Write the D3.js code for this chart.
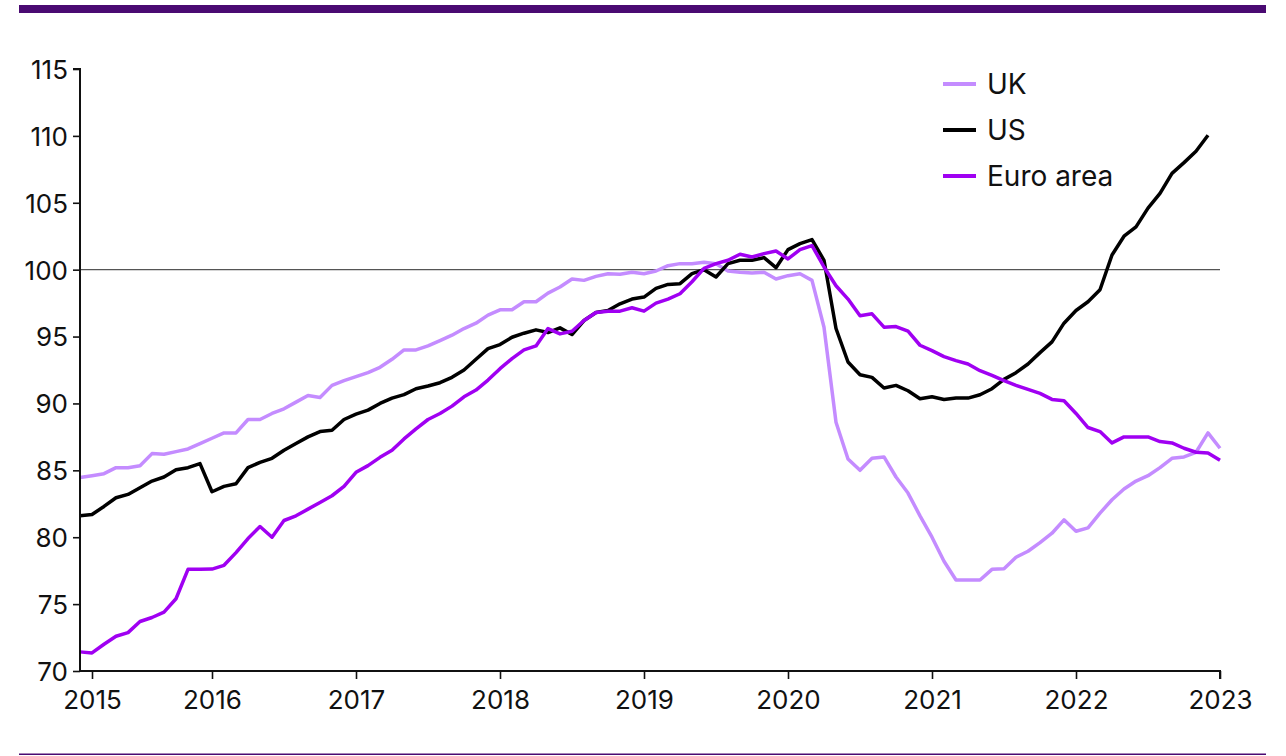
<!DOCTYPE html>
<html>
<head>
<meta charset="utf-8">
<script src="https://cdn.jsdelivr.net/npm/d3@7"></script>
<style>
  html, body { margin: 0; padding: 0; background: #fff; }
  svg { display: block; }
  text { font-family: Inter, "Noto Sans", sans-serif; fill: #111; }
</style>
</head>
<body>
<svg id="chart" width="1286" height="756"></svg>
<script>
// Monthly categories: Feb 2015 .. Jan 2023
const months = d3.timeMonths(new Date(2015, 1, 1), new Date(2023, 1, 1)).map(d3.timeFormat("%Y-%m"));

const uk = [84.47, 84.6, 84.75, 85.2, 85.2, 85.35, 86.25, 86.2, 86.4, 86.6, 87.0, 87.4,
  87.8, 87.8, 88.8, 88.8, 89.25, 89.6, 90.1, 90.6, 90.45, 91.35, 91.7, 92.0,
  92.3, 92.7, 93.3, 94.0, 94.0, 94.3, 94.7, 95.1, 95.6, 96.0, 96.6, 97.0,
  97.0, 97.6, 97.6, 98.25, 98.7, 99.3, 99.2, 99.5, 99.7, 99.65, 99.8, 99.7,
  99.9, 100.3, 100.45, 100.45, 100.55, 100.45, 99.9, 99.8, 99.75, 99.8, 99.3, 99.55,
  99.7, 99.2, 95.7, 88.6, 85.85, 85.0, 85.9, 86.0, 84.5, 83.3, 81.6, 80.0,
  78.2, 76.8, 76.8, 76.8, 77.6, 77.65, 78.5, 78.95, 79.6, 80.3, 81.3, 80.45,
  80.7, 81.8, 82.8, 83.6, 84.2, 84.6, 85.2, 85.9, 86.0, 86.35, 87.8, 86.65];

const us = [81.6, 81.7, 82.3, 82.95, 83.2, 83.7, 84.2, 84.5, 85.05, 85.2, 85.5, 83.4,
  83.8, 84.0, 85.2, 85.6, 85.9, 86.5, 87.0, 87.5, 87.9, 88.0, 88.8, 89.2,
  89.5, 90.0, 90.4, 90.66, 91.1, 91.3, 91.55, 91.95, 92.5, 93.3, 94.1, 94.4,
  94.95, 95.25, 95.5, 95.3, 95.65, 95.15, 96.2, 96.8, 96.95, 97.45, 97.8, 97.95,
  98.6, 98.9, 98.95, 99.7, 100.0, 99.45, 100.45, 100.7, 100.7, 100.9, 100.15, 101.5,
  101.95, 102.25, 100.7, 95.6, 93.1, 92.15, 91.95, 91.15, 91.35, 90.95, 90.35, 90.5,
  90.3, 90.4, 90.4, 90.65, 91.1, 91.8, 92.3, 92.95, 93.8, 94.6, 96.0, 96.95,
  97.6, 98.5, 101.1, 102.5, 103.2, 104.6, 105.7, 107.2, 108.0, 108.85, 110.05, null];

const euro = [71.43, 71.35, 72.0, 72.6, 72.87, 73.7, 74.0, 74.4, 75.4, 77.6, 77.6, 77.62,
  77.9, 78.85, 79.9, 80.8, 80.0, 81.25, 81.6, 82.1, 82.6, 83.1, 83.8, 84.85,
  85.35, 85.97, 86.5, 87.35, 88.1, 88.8, 89.25, 89.8, 90.5, 91.0, 91.75, 92.6,
  93.35, 94.0, 94.3, 95.6, 95.2, 95.4, 96.2, 96.8, 96.9, 96.9, 97.15, 96.9,
  97.5, 97.8, 98.2, 99.1, 100.1, 100.45, 100.7, 101.15, 100.95, 101.2, 101.4, 100.8,
  101.5, 101.8, 100.2, 98.8, 97.8, 96.55, 96.7, 95.7, 95.75, 95.4, 94.35, 93.95,
  93.5, 93.2, 92.95, 92.45, 92.1, 91.7, 91.35, 91.05, 90.75, 90.3, 90.2, 89.25,
  88.2, 87.9, 87.05, 87.5, 87.5, 87.5, 87.15, 87.05, 86.65, 86.35, 86.3, 85.75];

const xTickMonths = ["2015-03", "2016-01", "2017-01", "2018-01", "2019-01", "2020-01", "2021-01", "2022-01", "2023-01"];
const xTickLabels = ["2015", "2016", "2017", "2018", "2019", "2020", "2021", "2022", "2023"];
const yTicks = [70, 75, 80, 85, 90, 95, 100, 105, 110, 115];

const seriesNames = ["UK", "US", "Euro area"];
const seriesColors = ["#c48cff", "#000000", "#a000f2"];
const seriesData = [uk, us, euro];

const svg = d3.select("#chart");

// top band and bottom rule
svg.append("rect").attr("x", 19).attr("y", 5).attr("width", 1247).attr("height", 8).attr("fill", "#4a0a72");
svg.append("rect").attr("x", 19).attr("y", 753.5).attr("width", 1247).attr("height", 1.5).attr("fill", "#4a0a72");

const x = d3.scalePoint().domain(months).range([80, 1220]).padding(0);
const y = d3.scaleLinear().domain([70, 115]).range([671, 69]);

// reference line at 100
svg.append("line")
  .attr("x1", 80).attr("x2", 1220)
  .attr("y1", y(100)).attr("y2", y(100))
  .attr("stroke", "#555").attr("stroke-width", 1.2);

// lines
const line = d3.line()
  .defined(d => d.v !== null)
  .x(d => x(d.m))
  .y(d => y(d.v));

seriesData.forEach((arr, k) => {
  svg.append("path")
    .datum(arr.map((v, i) => ({ m: months[i], v: v })))
    .attr("fill", "none")
    .attr("stroke", seriesColors[k])
    .attr("stroke-width", 3.5)
    .attr("stroke-linejoin", "round")
    .attr("d", line);
});

// axes
const yAxis = d3.axisLeft(y).tickValues(yTicks).tickSize(7).tickPadding(5).tickFormat(d3.format("d"));
const gy = svg.append("g").attr("transform", "translate(80,0)").call(yAxis);
gy.select(".domain").attr("stroke", "#111").attr("stroke-width", 2).attr("d", "M-7," + y(115) + "H0V" + y(70));
gy.selectAll(".tick line").attr("stroke", "#111").attr("stroke-width", 1.6);
gy.selectAll(".tick text").attr("font-size", 26).attr("font-family", "Inter, sans-serif").attr("fill", "#111").attr("dy", "0.36em");

const xAxis = d3.axisBottom(x).tickValues(xTickMonths).tickSize(8).tickPadding(12)
  .tickFormat(m => xTickLabels[xTickMonths.indexOf(m)]);
const gx = svg.append("g").attr("transform", "translate(0,671)").call(xAxis);
gx.select(".domain").attr("stroke", "#111").attr("stroke-width", 2).attr("d", "M80,0H1220V8");
gx.selectAll(".tick line").attr("stroke", "#111").attr("stroke-width", 1.6);
gx.selectAll(".tick text").attr("font-size", 26).attr("font-family", "Inter, sans-serif").attr("fill", "#111").attr("dy", "0.71em");

// legend
const legendY = [84, 130, 176];
seriesNames.forEach((name, k) => {
  const g = svg.append("g").attr("transform", "translate(943," + legendY[k] + ")");
  g.append("line").attr("x1", 0).attr("x2", 33).attr("y1", 0).attr("y2", 0)
    .attr("stroke", seriesColors[k]).attr("stroke-width", 4);
  g.append("text").attr("x", 44).attr("y", 0).attr("dy", "0.36em")
    .attr("font-size", 28).text(name);
});
</script>
</body>
</html>
